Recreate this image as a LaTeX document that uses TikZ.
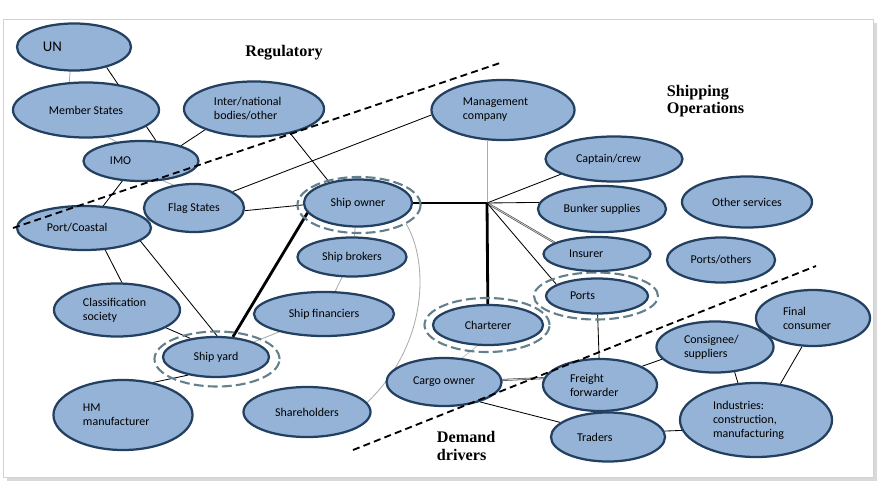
\documentclass[tikz,border=0pt]{standalone}
\usepackage{fontspec}
\newfontfamily\calib{Carlito}
\newfontfamily\headfont{Liberation Serif}
\usetikzlibrary{shapes.geometric}

\definecolor{boxfill}{RGB}{149,179,215}
\definecolor{boxline}{RGB}{36,64,97}
\definecolor{ringcol}{RGB}{100,128,140}

\pgfdeclarelayer{background}
\pgfsetlayers{background,main}

\tikzset{
  actor/.style={ellipse, draw=boxline, line width=1.6pt, fill=boxfill, inner sep=0pt,
    font=\calib\fontsize{8.5}{10}\selectfont, align=center},
  ringline/.style={ellipse, draw=ringcol, line width=1.5pt, dash pattern=on 7pt off 3pt, inner sep=0pt},
  link/.style={line width=0.6pt},
  faint/.style={gray!65, line width=0.6pt},
  shaded/.style={draw=black!75, double=gray!40, double distance=0.6pt, line width=0.4pt},
  heavy/.style={line width=2pt},
  divider/.style={line width=1.3pt, dash pattern=on 5pt off 3pt},
  heading/.style={font=\headfont\bfseries\fontsize{11.5}{12.5}\selectfont, align=left},
}

\begin{document}
\begin{tikzpicture}[x=0.025cm, y=-0.025cm]
\useasboundingbox (0,0) rectangle (891,491);

% rings
\node[ringline, minimum width=3.075cm, minimum height=1.4cm] (ownerring) at (359,205) {};
\node[ringline, minimum width=3.1cm, minimum height=1.175cm] (portsring) at (596,296) {};
\node[ringline, minimum width=3.125cm, minimum height=1.35cm] (charterring) at (487,325) {};
\node[ringline, minimum width=3.125cm, minimum height=1.375cm] (yardring) at (217,359) {};

% regulatory side
\node[actor, minimum width=2.85cm, minimum height=1.175cm, text width=1.55cm, align=left,
  font=\calib\fontsize{10.5}{12}\selectfont] (un) at (74,47) {UN};
\node[actor, minimum width=3.65cm, minimum height=1.375cm] (ms) at (86,110) {Member States};
\node[actor, minimum width=3.5cm, minimum height=1.375cm, text width=2cm, align=left] (inter) at (254,109) {Inter/national\\bodies/other};
\node[actor, minimum width=2.875cm, minimum height=1cm, text width=1.55cm, align=left] (imo) at (141,161) {IMO};
\node[actor, minimum width=2.5cm, minimum height=1.2cm] (flag) at (194,208) {Flag States};
\node[actor, minimum width=3.35cm, minimum height=1.1cm, text width=1.85cm, align=left] (port) at (84,228) {Port/Coastal};
\node[actor, minimum width=3.15cm, minimum height=1.325cm, text width=1.7cm, align=left] (class) at (117,310) {Classification\\society};
\node[actor, minimum width=2.65cm, minimum height=1cm] (yard) at (216,357) {Ship yard};
\node[actor, minimum width=3.475cm, minimum height=1.75cm, text width=2cm, align=left] (hm) at (123,415) {HM\\manufacturer};

% owner side
\node[actor, minimum width=2.7cm, minimum height=1.175cm] (owner) at (358,203) {Ship owner};
\node[actor, minimum width=2.725cm, minimum height=0.975cm] (brokers) at (352,257) {Ship brokers};
\node[actor, minimum width=3.5cm, minimum height=1.1cm] (financiers) at (324,314) {Ship financiers};
\node[actor, minimum width=3.175cm, minimum height=1.25cm] (share) at (307,412) {Shareholders};

% operations
\node[actor, minimum width=3.575cm, minimum height=1.5cm, text width=2cm, align=left] (mgmt) at (503,110) {Management\\company};
\node[actor, minimum width=3.425cm, minimum height=1.125cm, text width=1.9cm, align=left] (captain) at (614,159) {Captain/crew};
\node[actor, minimum width=3.2cm, minimum height=1.15cm] (bunker) at (602,209) {Bunker supplies};
\node[actor, minimum width=3.25cm, minimum height=1.275cm] (other) at (747,202) {Other services};
\node[actor, minimum width=2.675cm, minimum height=0.85cm, text width=1.4cm, align=left] (insurer) at (597,254) {Insurer};
\node[actor, minimum width=2.7cm, minimum height=1.125cm] (portsoth) at (721,260) {Ports/others};
\node[actor, minimum width=2.55cm, minimum height=0.875cm, text width=1.35cm, align=left] (ports) at (597,296) {Ports};
\node[actor, minimum width=2.75cm, minimum height=1cm] (charterer) at (488,325) {Charterer};
\coordinate (hub) at (487,203);

% demand side
\node[actor, minimum width=2.875cm, minimum height=1.2cm] (cargo) at (444,382) {Cargo owner};
\node[actor, minimum width=2.85cm, minimum height=1.3cm, text width=1.5cm, align=left] (freight) at (600,385) {Freight\\forwarder};
\node[actor, minimum width=2.925cm, minimum height=1.275cm, text width=1.55cm, align=left] (consignee) at (715,347) {Consignee/\\suppliers};
\node[actor, minimum width=2.85cm, minimum height=1.4cm, text width=1.5cm, align=left] (final) at (813,318) {Final\\consumer};
\node[actor, minimum width=3.8cm, minimum height=1.85cm, text width=2.15cm, align=left] (industries) at (756,420) {Industries:\\construction,\\manufacturing};
\node[actor, minimum width=2.85cm, minimum height=1.225cm, text width=1.55cm, align=left] (traders) at (608,437) {Traders};

\begin{pgfonlayer}{background}
% frame with shadow
\fill[gray!30] (7,23) rectangle (877,481);
\filldraw[fill=white, draw=gray!35] (3,19) rectangle (873,477);
% connectors
\draw[faint] (un.-99) -- (ms.121);
\draw[link] (un.-32) -- (imo.54);
\draw[faint] (ms.-51) -- (imo.142);
\draw[link] (inter.-157) -- (imo.21);
\draw[link] (inter.-34) -- (owner.144);
\draw[faint] (imo.-42) -- (flag.132);
\draw[link] (imo.-133) -- (port.49);
\draw[link] (flag.23) -- (mgmt.-176);
\draw[link] (flag.-3) -- (owner.-178);
\draw[heavy] (owner) -- (hub);
\draw[faint] (hub) -- (hub |- mgmt.south);
\draw[link] (hub) -- (captain.-164);
\draw[link] (hub) -- (bunker.174);
\draw[shaded] (hub) -- (insurer.165);
\draw[link] (hub) -- (ports.164);
\draw[heavy] (hub) -- (charterer);
\draw[heavy] (owner.-169) -- (yard.50);
\draw[faint] (owner) -- (brokers);
\draw[faint] (ownerring.-22) .. controls (428,260) and (430,342) .. (share.9);
\draw[faint] (brokers) -- (financiers);
\draw[faint] (financiers) -- (yard);
\draw[link] (port.-46) -- (class.80);
\draw[link] (port.-13) -- (yard.87);
\draw[link] (class.-20) -- (yard.144);
\draw[link] (yard.-147) -- (hm.47);
\draw[gray!45, line width=0.6pt] (charterer.-117) -- (cargo.53);
\draw[shaded] (cargo.2) -- (freight.173);
\draw[link] (cargo.-29) -- (traders.163);
\draw[link] (ports) -- (freight);
\draw[link] (freight.24) -- (consignee.-167);
\draw[link] (consignee.-52) -- (industries.116);
\draw[link] (final.-111) -- (industries.56);
\draw[link] (traders.6) -- (industries.-172);
\end{pgfonlayer}

% dividers
\draw[divider] (13,228) -- (503,62);
\draw[divider] (353,450) -- (816,266);

% labels
\node[heading] (regulatory) at (284,53) {Regulatory};
\node[heading, anchor=west] (shipping) at (662,101) {Shipping\\Operations};
\node[heading, anchor=west] (demand) at (432,446) {Demand\\drivers};
\end{tikzpicture}
\end{document}
